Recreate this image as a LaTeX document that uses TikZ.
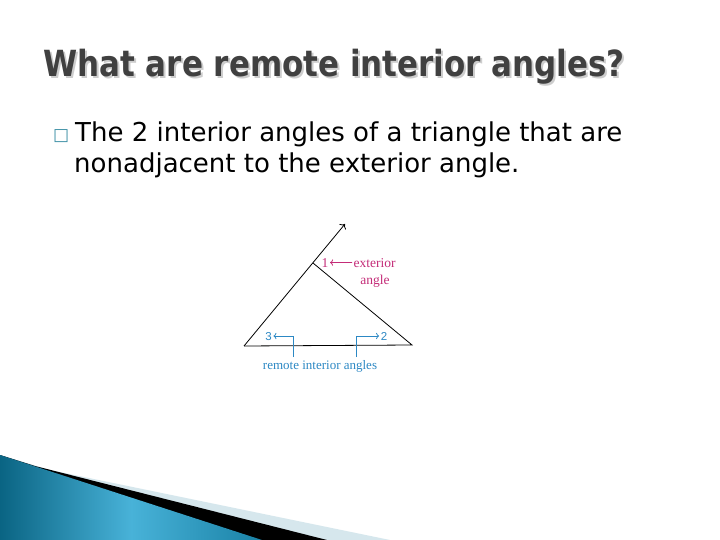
\documentclass[tikz,border=0pt]{standalone}
\usepackage{fontspec}
\usetikzlibrary{arrows.meta}
\newfontfamily\titlefont[FakeStretch=0.86]{DejaVu Sans}
\newfontfamily\bodyfont{DejaVu Sans}
\newfontfamily\handfont{Liberation Serif}
\newfontfamily\digitfont{Liberation Sans}
\definecolor{titlegrey}{HTML}{404040}
\definecolor{shadowgrey}{HTML}{CDCDCD}
\definecolor{bullteal}{HTML}{3C8FA5}
\definecolor{extpink}{HTML}{C42C78}
\definecolor{remblue}{HTML}{2C88C4}
\definecolor{flowdark}{HTML}{0A6483}
\definecolor{flowmid}{HTML}{48B2D8}
\definecolor{flowend}{HTML}{1A82A6}
\definecolor{flowpale}{HTML}{D6E7ED}
\begin{document}
\begin{tikzpicture}
[x=1pt,y=-1pt,
 side/.style={line width=0.8pt},
 titletext/.style={font=\titlefont\bfseries\fontsize{36}{40}\selectfont, inner sep=0pt, anchor=base west},
 bodytext/.style={font=\bodyfont\fontsize{26}{31}\selectfont, inner sep=0pt, anchor=base west},
 pinklabel/.style={text=extpink, font=\handfont\fontsize{13.5}{15}\selectfont, inner sep=1.5pt},
 bluelabel/.style={text=remblue, font=\handfont\fontsize{13}{15}\selectfont, inner sep=1.5pt},
 bluedigit/.style={text=remblue, font=\digitfont\fontsize{11.5}{13}\selectfont, inner sep=1.5pt},
 pinkarrow/.style={draw=extpink, line width=0.8pt, -{To[length=3pt]}},
 bluearrow/.style={draw=remblue, line width=0.8pt, -{To[length=3pt]}}]
\useasboundingbox (0,0) rectangle (720,540);
\fill[white] (0,0) rectangle (720,540);
%% bottom band
\fill[flowpale] (0,455) -- (50,470) -- (390,540) -- (0,540) -- cycle;
\fill[black] (0,455) -- (35,466) -- (327,540) -- (0,540) -- cycle;
\shade[left color=flowdark, right color=flowend, middle color=flowmid]
  (0,455) -- (262,540) -- (0,540) -- cycle;
%% title with its shadow
\node[titletext, text=shadowgrey] (titleshadow) at (45,79) {What are remote interior angles?};
\node[titletext, text=titlegrey] (title) at (43,77) {What are remote interior angles?};
%% bullet text
\node[font=\bodyfont\fontsize{17}{20}\selectfont, text=bullteal, inner sep=0pt, anchor=base west]
  (bullet) at (53,141) {□};
\node[bodytext] (lineone) at (75,142) {The 2 interior angles of a triangle that are};
\node[bodytext] (linetwo) at (74,173) {nonadjacent to the exterior angle.};
%% the triangle
\coordinate (A) at (244,346);
\coordinate (B) at (412,345);
\coordinate (C) at (313,263);
\coordinate (E) at (345,224);
\draw[side] (A) -- (B) -- (C);
\draw[side,-{To[length=4pt]}] (A) -- (E);
%% exterior angle
\node[pinklabel, anchor=base] (one) at (325,267) {1};
\node[pinklabel, anchor=base west] (ext) at (352,267) {exterior};
\node[pinklabel, anchor=base] (ang) at (375,284) {angle};
\draw[pinkarrow] (ext.west) -- (one.east);
%% remote interior angles
\node[bluedigit, anchor=base] (three) at (268.5,340) {3};
\node[bluedigit, anchor=base] (two) at (384,340) {2};
\node[bluelabel, anchor=base] (remote) at (320,369) {remote interior angles};
\coordinate (leftfoot) at (293,357);
\coordinate (rightfoot) at (356,357);
\draw[bluearrow] (leftfoot) |- (three.east);
\draw[bluearrow] (rightfoot) |- (two.west);
\end{tikzpicture}
\end{document}
